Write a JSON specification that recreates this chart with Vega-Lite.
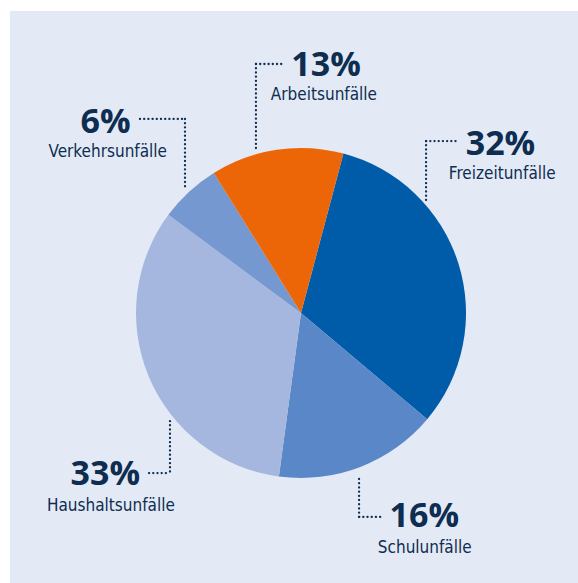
{
  "$schema": "https://vega.github.io/schema/vega-lite/v6.json",
  "width": 568,
  "height": 572,
  "padding": {"left": 10, "top": 11, "right": 0, "bottom": 0},
  "autosize": {"type": "none"},
  "background": "#ffffff",
  "config": {"view": {"fill": "#e3eaf6", "stroke": null}},
  "datasets": {
    "slices": [
      {"kategorie": "Freizeitunfälle", "anteil": 32, "ord": 1},
      {"kategorie": "Schulunfälle", "anteil": 16, "ord": 2},
      {"kategorie": "Haushaltsunfälle", "anteil": 33, "ord": 3},
      {"kategorie": "Verkehrsunfälle", "anteil": 6, "ord": 4},
      {"kategorie": "Arbeitsunfälle", "anteil": 13, "ord": 5}
    ],
    "leaders": [
      {"kategorie": "Arbeitsunfälle", "x": -27.3, "y": 150.9, "x2": -10.3, "y2": 150.9},
      {"kategorie": "Arbeitsunfälle", "x": -27.3, "y": 150.9, "x2": -27.3, "y2": 98.8},
      {"kategorie": "Freizeitunfälle", "x": 75.8, "y": 104.2, "x2": 94.5, "y2": 104.2},
      {"kategorie": "Freizeitunfälle", "x": 75.8, "y": 104.2, "x2": 75.8, "y2": 68.5},
      {"kategorie": "Verkehrsunfälle", "x": -97.6, "y": 117.6, "x2": -70.3, "y2": 117.6},
      {"kategorie": "Verkehrsunfälle", "x": -70.3, "y": 117.6, "x2": -70.3, "y2": 75.2},
      {"kategorie": "Haushaltsunfälle", "x": -79.4, "y": -65.5, "x2": -79.4, "y2": -97.0},
      {"kategorie": "Haushaltsunfälle", "x": -92.1, "y": -97.0, "x2": -79.4, "y2": -97.0},
      {"kategorie": "Schulunfälle", "x": 35.2, "y": -100.6, "x2": 35.2, "y2": -123.6},
      {"kategorie": "Schulunfälle", "x": 35.2, "y": -123.6, "x2": 49.7, "y2": -123.6}
    ],
    "labels": [
      {"kategorie": "Arbeitsunfälle", "prozent": "13%", "px": 15.2, "py": 143.4, "lx": 13.9, "ly": 129.0},
      {"kategorie": "Freizeitunfälle", "prozent": "32%", "px": 120.9, "py": 95.8, "lx": 122.0, "ly": 81.2},
      {"kategorie": "Verkehrsunfälle", "prozent": "6%", "px": -118.4, "py": 108.9, "lx": -117.1, "ly": 94.3},
      {"kategorie": "Haushaltsunfälle", "prozent": "33%", "px": -118.6, "py": -104.2, "lx": -115.2, "ly": -119.8},
      {"kategorie": "Schulunfälle", "prozent": "16%", "px": 74.7, "py": -129.5, "lx": 75.0, "ly": -145.6}
    ]
  },
  "resolve": {"scale": {"x": "shared", "y": "shared"}},
  "layer": [
    {
      "data": {"name": "slices"},
      "mark": {"type": "arc", "outerRadius": 165, "strokeWidth": 0},
      "encoding": {
        "theta": {"field": "anteil", "type": "quantitative", "stack": true, "scale": {"range": [0.26, 6.5432]}},
        "order": {"field": "ord", "type": "quantitative"},
        "color": {
          "field": "kategorie",
          "type": "nominal",
          "legend": null,
          "scale": {
            "domain": ["Freizeitunfälle", "Schulunfälle", "Haushaltsunfälle", "Verkehrsunfälle", "Arbeitsunfälle"],
            "range": ["#005ca9", "#5a87c8", "#a5b7df", "#7698d0", "#ec6608"]
          }
        },
        "x": {"datum": 0, "type": "quantitative", "scale": {"domain": [-176.36, 167.88], "nice": false, "zero": false}, "axis": null},
        "y": {"datum": 0, "type": "quantitative", "scale": {"domain": [-163.64, 183.03], "nice": false, "zero": false}, "axis": null}
      }
    },
    {
      "data": {"name": "leaders"},
      "mark": {"type": "rule", "color": "#0e2d50", "strokeWidth": 2.3, "strokeDash": [0.1, 4.1], "strokeCap": "round"},
      "encoding": {
        "x": {"field": "x", "type": "quantitative"},
        "y": {"field": "y", "type": "quantitative"},
        "x2": {"field": "x2"},
        "y2": {"field": "y2"}
      }
    },
    {
      "data": {"name": "labels"},
      "mark": {"type": "text", "font": "Open Sans", "fontWeight": "bold", "fontSize": 34, "color": "#0e2d50", "align": "center", "baseline": "alphabetic"},
      "encoding": {
        "x": {"field": "px", "type": "quantitative"},
        "y": {"field": "py", "type": "quantitative"},
        "text": {"field": "prozent"}
      }
    },
    {
      "data": {"name": "labels"},
      "mark": {"type": "text", "font": "Liberation Sans Narrow, DejaVu Sans Condensed, Roboto Condensed, sans-serif", "fontSize": 17, "color": "#0e2d50", "align": "center", "baseline": "alphabetic"},
      "encoding": {
        "x": {"field": "lx", "type": "quantitative"},
        "y": {"field": "ly", "type": "quantitative"},
        "text": {"field": "kategorie"}
      }
    }
  ]
}
